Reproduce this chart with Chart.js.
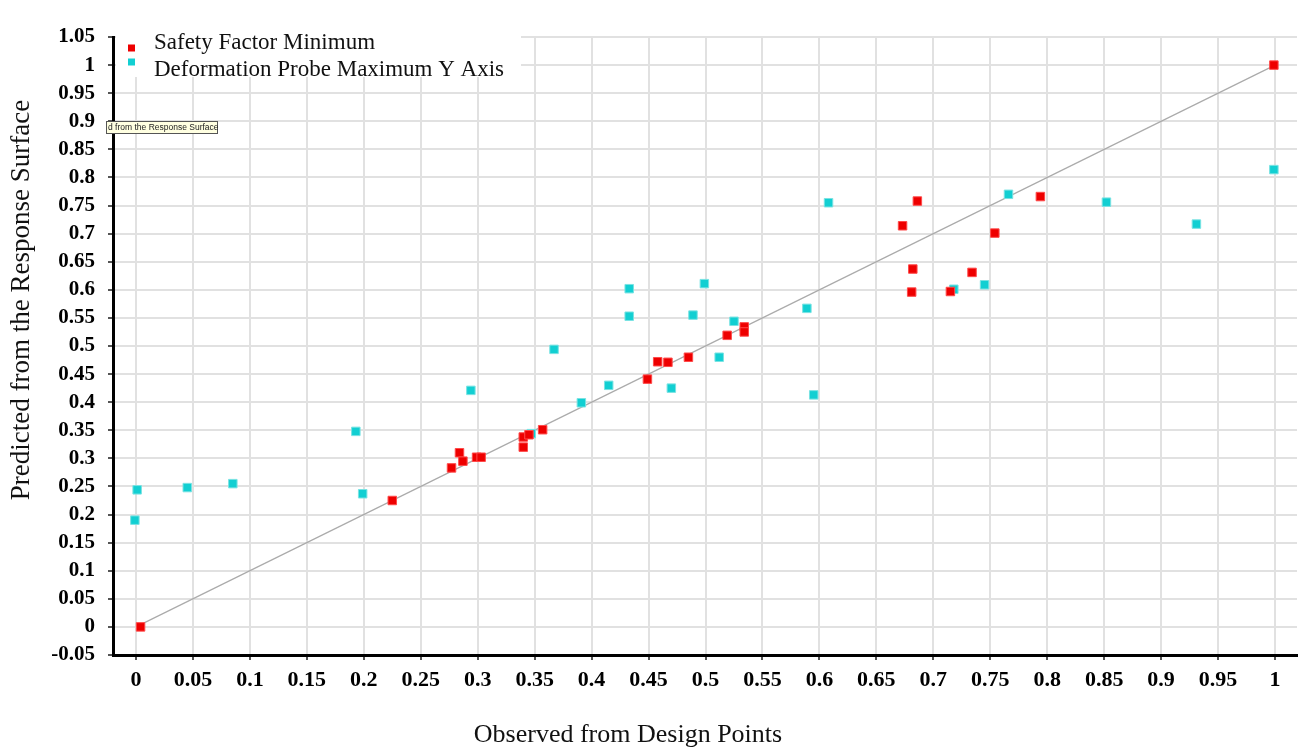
<!DOCTYPE html>
<html>
<head>
<meta charset="utf-8">
<title>Predicted vs Observed</title>
<script src="https://cdn.jsdelivr.net/npm/chart.js@4.4.1/dist/chart.umd.min.js"></script>
<style>
    html, body { margin: 0; padding: 0; background: #fff; }
    #wrap { width: 1304px; height: 751px; }
</style>
</head>
<body>
<div id="wrap"><canvas id="fitChart" width="1304" height="751"></canvas></div>
<script>
// Goodness of fit chart: predicted from the response surface vs observed from design points

// Safety Factor Minimum
const safetyX = [0.004, 0.225, 0.277, 0.284, 0.287, 0.299, 0.303, 0.340, 0.340, 0.345,
    0.357, 0.449, 0.458, 0.467, 0.485, 0.519, 0.534, 0.534, 0.673, 0.686,
    0.682, 0.681, 0.715, 0.734, 0.754, 0.794, 0.999];
const safetyY = [0.000, 0.225, 0.283, 0.310, 0.295, 0.302, 0.302, 0.338, 0.320, 0.342,
    0.351, 0.441, 0.472, 0.471, 0.480, 0.519, 0.534, 0.525, 0.714, 0.758,
    0.637, 0.596, 0.597, 0.631, 0.701, 0.766, 1.000];

// Deformation Probe Maximum Y Axis
const deformX = [0.001, -0.001, 0.045, 0.085, 0.193, 0.199, 0.294, 0.347, 0.367, 0.391,
    0.415, 0.433, 0.433, 0.470, 0.489, 0.499, 0.512, 0.525, 0.589, 0.595,
    0.608, 0.718, 0.745, 0.766, 0.852, 0.931, 0.999];
const deformY = [0.244, 0.190, 0.248, 0.255, 0.348, 0.237, 0.421, 0.344, 0.494, 0.399,
    0.430, 0.602, 0.553, 0.425, 0.555, 0.611, 0.480, 0.544, 0.567, 0.413,
    0.755, 0.601, 0.609, 0.770, 0.756, 0.717, 0.814];

// 45 degree reference line
const refLineX = [0, 1];
const refLineY = [0, 1];

// Tick values
const xTicks = [0, 0.05, 0.1, 0.15, 0.2, 0.25, 0.3, 0.35, 0.4, 0.45, 0.5,
    0.55, 0.6, 0.65, 0.7, 0.75, 0.8, 0.85, 0.9, 0.95, 1];
const yTicks = [-0.05, 0, 0.05, 0.1, 0.15, 0.2, 0.25, 0.3, 0.35, 0.4, 0.45, 0.5,
    0.55, 0.6, 0.65, 0.7, 0.75, 0.8, 0.85, 0.9, 0.95, 1, 1.05];

const xTitle = 'Observed from Design Points';
const yTitle = 'Predicted from the Response Surface';
const hintText = 'd from the Response Surface';

const serif = '"Liberation Serif", "Times New Roman", serif';

function toPoints(xs, ys) {
    return xs.map((x, i) => ({ x: x, y: ys[i] }));
}

function formatTick(value) {
    return String(Number(value.toFixed(2)));
}

// Legend drawn inside the plot, top left, on a white box
const insideLegend = {
    id: 'insideLegend',
    afterDatasetsDraw(chart) {
        const ctx = chart.ctx;
        const area = chart.chartArea;
        const left = area.left + 3;
        ctx.save();
        ctx.fillStyle = '#ffffff';
        ctx.fillRect(left, 24, 405, 53);
        const items = chart.data.datasets.filter(ds => ds.inLegend);
        const markY = [48, 62];
        const textY = [43, 70];
        ctx.font = '23px ' + serif;
        ctx.textBaseline = 'middle';
        ctx.textAlign = 'left';
        items.forEach((ds, i) => {
            ctx.fillStyle = ds.backgroundColor;
            ctx.fillRect(left + 12, markY[i] - 3.5, 7, 7);
            ctx.fillStyle = '#111';
            ctx.fillText(ds.label, left + 38, textY[i]);
        });
        ctx.restore();
    }
};

// Axis titles and the little hint box near the y axis
const extraText = {
    id: 'extraText',
    afterDraw(chart) {
        const ctx = chart.ctx;
        ctx.save();
        ctx.fillStyle = '#111';
        ctx.font = '26px ' + serif;
        ctx.textAlign = 'center';
        ctx.textBaseline = 'middle';
        ctx.fillText(xTitle, 628, 735);

        ctx.translate(22, 300);
        ctx.rotate(-Math.PI / 2);
        ctx.font = '27px ' + serif;
        ctx.fillText(yTitle, 0, 0);
        ctx.restore();

        ctx.save();
        ctx.fillStyle = '#ffffe1';
        ctx.strokeStyle = '#555';
        ctx.lineWidth = 1;
        ctx.fillRect(106, 121, 112, 13);
        ctx.strokeRect(106.5, 121.5, 111, 12);
        ctx.fillStyle = '#222';
        ctx.font = '8.5px "Liberation Sans", Arial, sans-serif';
        ctx.textBaseline = 'middle';
        ctx.textAlign = 'left';
        ctx.fillText(hintText, 108, 128);
        ctx.restore();
    }
};

function initializeChart() {
    const ctx = document.getElementById('fitChart');

    new Chart(ctx, {
        type: 'scatter',
        data: {
            datasets: [{
                label: 'Safety Factor Minimum',
                inLegend: true,
                data: toPoints(safetyX, safetyY),
                pointStyle: 'rect',
                pointRadius: 6,
                backgroundColor: '#ee0000',
                borderColor: '#ff4a4a',
                borderWidth: 1
            }, {
                label: 'Deformation Probe Maximum Y Axis',
                inLegend: true,
                data: toPoints(deformX, deformY),
                pointStyle: 'rect',
                pointRadius: 6,
                backgroundColor: '#12cfd2',
                borderColor: '#7ae3e3',
                borderWidth: 1
            }, {
                label: 'Reference',
                type: 'line',
                data: toPoints(refLineX, refLineY),
                borderColor: '#ababab',
                borderWidth: 1.2,
                pointRadius: 0,
                fill: false
            }]
        },
        options: {
            responsive: false,
            devicePixelRatio: 1,
            animation: false,
            layout: {
                padding: { top: 37, right: 6, left: 0, bottom: 0 }
            },
            plugins: {
                legend: { display: false },
                tooltip: { enabled: false }
            },
            scales: {
                x: {
                    type: 'linear',
                    min: -0.0202,
                    max: 1.0193,
                    afterBuildTicks: function(scale) {
                        scale.ticks = xTicks.map(v => ({ value: v }));
                    },
                    afterFit: function(scale) {
                        scale.height = 96;
                    },
                    ticks: {
                        callback: function(value) {
                            return formatTick(value);
                        },
                        autoSkip: false,
                        maxRotation: 0,
                        color: '#000',
                        padding: 7,
                        font: { family: serif, size: 22, weight: 'bold' }
                    },
                    grid: {
                        color: '#e1e1e1',
                        lineWidth: 2,
                        tickLength: 5,
                        tickColor: '#555'
                    },
                    border: { color: '#000', width: 3 }
                },
                y: {
                    type: 'linear',
                    min: -0.05,
                    max: 1.05,
                    afterBuildTicks: function(scale) {
                        scale.ticks = yTicks.map(v => ({ value: v }));
                    },
                    afterFit: function(scale) {
                        scale.width = 113;
                    },
                    ticks: {
                        callback: function(value) {
                            return formatTick(value);
                        },
                        autoSkip: false,
                        color: '#000',
                        padding: 13,
                        font: { family: serif, size: 21, weight: 'bold' }
                    },
                    grid: {
                        color: '#e1e1e1',
                        lineWidth: 2,
                        tickLength: 5,
                        tickColor: '#555'
                    },
                    border: { color: '#000', width: 3 }
                }
            }
        },
        plugins: [insideLegend, extraText]
    });
}

document.addEventListener('DOMContentLoaded', function() {
    initializeChart();
});
</script>
</body>
</html>
